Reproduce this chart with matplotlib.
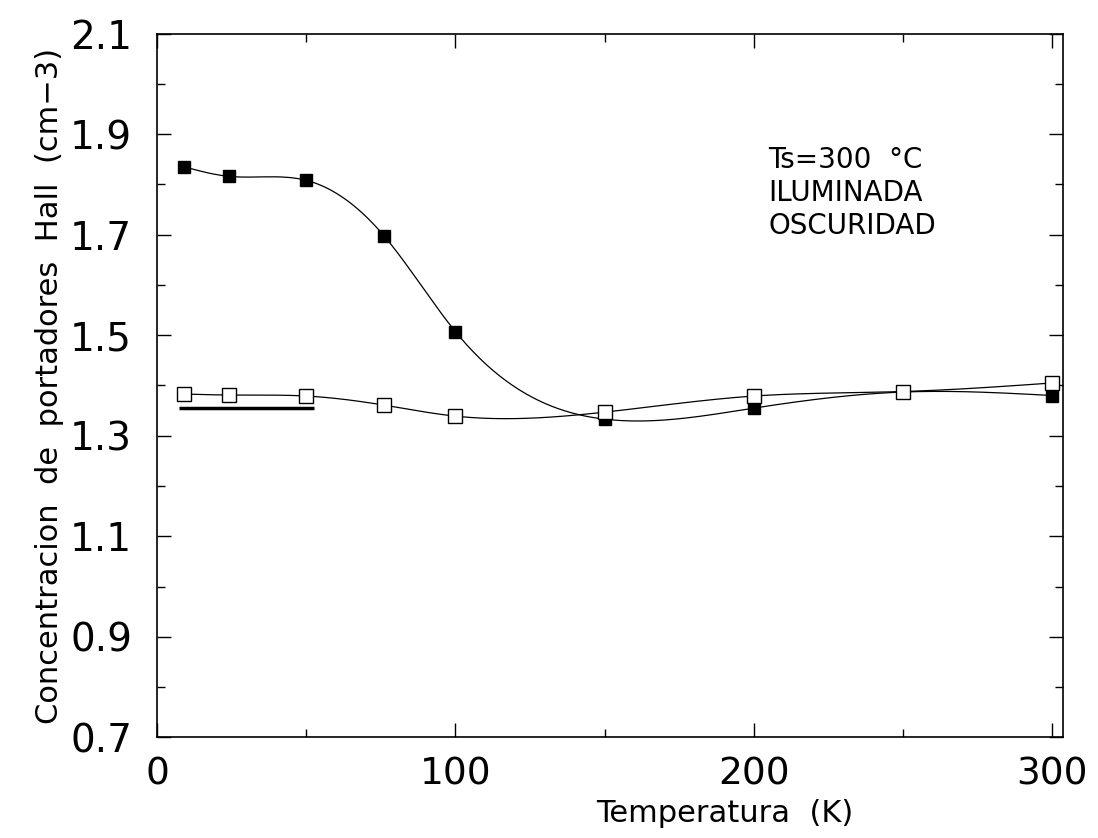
import numpy as np
import matplotlib
matplotlib.use("Agg")
import matplotlib.pyplot as plt
from matplotlib.ticker import MultipleLocator, FormatStrFormatter

# Temperature (K) and Hall carrier concentration
temp = [9, 24, 50, 76, 100, 150, 200, 250, 300]
iluminada = [1.835, 1.816, 1.808, 1.698, 1.507, 1.333, 1.355, 1.387, 1.380]
oscuridad = [1.383, 1.381, 1.379, 1.361, 1.339, 1.347, 1.379, 1.388, 1.405]

# thick reference bar drawn in the original figure
bar_x = [7.5, 52.5]
bar_y = [1.356, 1.356]

labels = ["Ts=300  \u00b0C", "ILUMINADA", "OSCURIDAD"]


def natural_spline(x, y, n=400):
    x = np.asarray(x, float)
    y = np.asarray(y, float)
    m = len(x)
    h = np.diff(x)
    A = np.zeros((m, m))
    b = np.zeros(m)
    A[0, 0] = A[-1, -1] = 1.0
    for i in range(1, m - 1):
        A[i, i - 1] = h[i - 1]
        A[i, i] = 2 * (h[i - 1] + h[i])
        A[i, i + 1] = h[i]
        b[i] = 3 * ((y[i + 1] - y[i]) / h[i] - (y[i] - y[i - 1]) / h[i - 1])
    c = np.linalg.solve(A, b)
    xs = np.linspace(x[0], x[-1], n)
    k = np.clip(np.searchsorted(x, xs) - 1, 0, m - 2)
    dx = xs - x[k]
    bb = (y[k + 1] - y[k]) / h[k] - h[k] * (2 * c[k] + c[k + 1]) / 3
    d = (c[k + 1] - c[k]) / (3 * h[k])
    return xs, y[k] + bb * dx + c[k] * dx ** 2 + d * dx ** 3


plt.rcParams['font.family'] = ['DejaVu Sans']

fig = plt.figure(figsize=(10.98, 8.38), dpi=100)
ax = fig.add_axes([0.143, 0.120, 0.825, 0.840])

xs, ys = natural_spline(temp, iluminada)
ax.plot(xs, ys, color='black', lw=0.9)
ax.plot(temp, iluminada, 's', color='black', ms=9, mec='black')

xs, ys = natural_spline(temp, oscuridad)
ax.plot(xs, ys, color='black', lw=0.9)
ax.plot(temp, oscuridad, 's', mfc='white', mec='black', ms=9.5, mew=1.0)

ax.plot(bar_x, bar_y, color='black', lw=2.5, solid_capstyle='butt')

ax.set_xlim(0, 303.5)
ax.set_ylim(0.7, 2.1)
ax.xaxis.set_major_locator(MultipleLocator(100))
ax.xaxis.set_minor_locator(MultipleLocator(50))
ax.yaxis.set_major_locator(MultipleLocator(0.2, offset=0.1))
ax.yaxis.set_minor_locator(MultipleLocator(0.1))
ax.yaxis.set_major_formatter(FormatStrFormatter('%.1f'))

ax.tick_params(which='both', direction='in', top=True, right=True, width=1.0)
ax.tick_params(which='major', length=10)
ax.tick_params(which='minor', length=6)
ax.tick_params(axis='x', labelsize=27, pad=14)
ax.tick_params(axis='y', labelsize=28, pad=18)
for s in ax.spines.values():
    s.set_linewidth(1.2)

ax.set_xlabel("Temperatura  (K)", fontsize=22, labelpad=2)
ax.xaxis.set_label_coords(0.627, -0.088)
ax.set_ylabel("Concentracion  de  portadores  Hall  (cm\u22123)", fontsize=22, labelpad=4)

for i, t in enumerate(labels):
    ax.text(0.675, 0.821 - i * 0.047, t, transform=ax.transAxes, fontsize=20,
            va='center', ha='left')

fig.savefig("out.png", dpi=100)
